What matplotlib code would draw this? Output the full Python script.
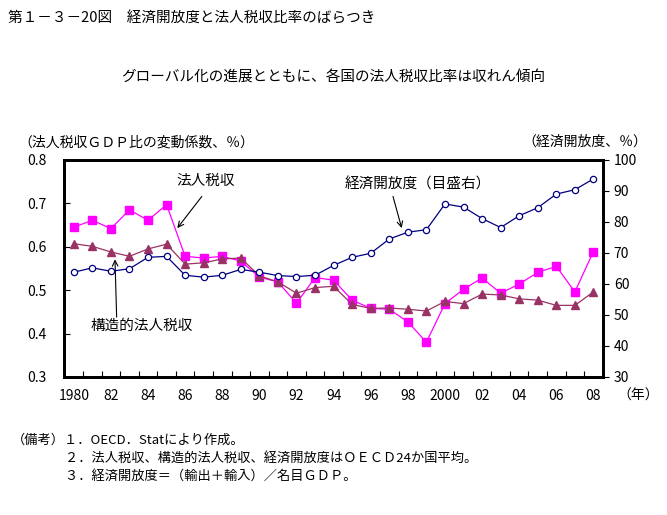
import numpy as np
import matplotlib
matplotlib.use('Agg')
import matplotlib.pyplot as plt

plt.rcParams['font.family'] = ['Noto Sans CJK JP', 'DejaVu Sans']

years = list(range(1980, 2009))
year_labels = ['1980', '82', '84', '86', '88', '90', '92', '94', '96', '98',
               '2000', '02', '04', '06', '08']

# 法人税収GDP比の変動係数
corp_tax = [0.645, 0.661, 0.642, 0.685, 0.661, 0.697, 0.578, 0.574, 0.578, 0.567,
            0.530, 0.519, 0.470, 0.529, 0.523, 0.477, 0.458, 0.456, 0.427, 0.380,
            0.469, 0.502, 0.528, 0.493, 0.514, 0.541, 0.555, 0.496, 0.589]
# 構造的法人税収
struct_tax = [0.607, 0.601, 0.588, 0.578, 0.595, 0.606, 0.560, 0.563, 0.572, 0.574,
              0.533, 0.519, 0.493, 0.506, 0.509, 0.467, 0.458, 0.459, 0.456, 0.452,
              0.474, 0.469, 0.491, 0.489, 0.480, 0.477, 0.465, 0.465, 0.496]
# 経済開放度 (%, 右目盛)
openness = [63.8, 65.2, 64.1, 64.9, 68.6, 68.9, 62.8, 62.2, 62.8, 64.7,
            63.8, 62.7, 62.4, 62.8, 66.0, 68.6, 69.9, 74.5, 76.7, 77.5,
            85.8, 84.8, 81.1, 78.2, 82.0, 84.6, 89.0, 90.4, 93.9]

fig = plt.figure(figsize=(6.67, 5.15), dpi=100)
ax = fig.add_axes([0.0967, 0.268, 0.8069, 0.4214])
ax2 = ax.twinx()

ax.plot(years, corp_tax, color='#FF00FF', lw=0.9, marker='s', ms=5.5,
        mfc='#FF00FF', mec='#FF00FF', zorder=3)
ax.plot(years, struct_tax, color='#993366', lw=0.9, marker='^', ms=6,
        mfc='#993366', mec='#993366', zorder=3)
ax2.plot(years, openness, color='#000080', lw=0.9, marker='o', ms=4.5,
         mfc='white', mec='#000080', mew=0.9, zorder=3)

ax.set_xlim(1979.5, 2008.5)
ax.set_ylim(0.3, 0.8)
ax2.set_ylim(30, 100)

ax.set_xticks(years[::2], year_labels)
ax.set_xticks(np.arange(1980.5, 2008, 1), minor=True)
ax.tick_params(axis='x', which='major', length=0, pad=9, labelsize=10)
ax.tick_params(axis='x', which='minor', direction='in', length=4, width=0.8)

yt = [0.3, 0.4, 0.5, 0.6, 0.7, 0.8]
ax.set_yticks(yt, [f'{v:.1f}' for v in yt])
ax.tick_params(axis='y', direction='in', length=4, width=0.8, pad=13, labelsize=10)
ax2.set_yticks(range(30, 101, 10))
ax2.tick_params(axis='y', direction='out', length=4, width=0.8, pad=4, labelsize=10)

for a in (ax, ax2):
    for s in a.spines.values():
        s.set_linewidth(2)

fig.text(0.012, 0.965, '第１－３－20図　経済開放度と法人税収比率のばらつき',
         fontsize=10.5, va='center')
fig.text(0.5, 0.85, 'グローバル化の進展とともに、各国の法人税収比率は収れん傾向',
         fontsize=10.5, ha='center', va='center')
fig.text(0.027, 0.724, '（法人税収ＧＤＰ比の変動係数、％）', fontsize=10, va='center')
fig.text(0.97, 0.724, '（経済開放度、％）', fontsize=10, ha='right', va='center')
fig.text(0.925, 0.232, '（年）', fontsize=10, va='center')

# labels with arrows
arrow = dict(arrowstyle='->', color='black', lw=0.8, shrinkA=0, shrinkB=0)
ax.text(1987.1, 0.753, '法人税収', fontsize=10.5, ha='center', va='center')
ax.annotate('', xy=(1985.58, 0.643), xytext=(1986.9, 0.716), arrowprops=arrow)
ax.text(1983.66, 0.417, '構造的法人税収', fontsize=10.5, ha='center', va='center')
ax.annotate('', xy=(1982.22, 0.571), xytext=(1982.31, 0.438), arrowprops=arrow)
ax.text(1998.55, 0.743, '経済開放度（目盛右）', fontsize=10.5, ha='center', va='center')
ax.annotate('', xy=(1997.67, 0.643), xytext=(1997.2, 0.716), arrowprops=arrow)

notes = ['（備考）１．OECD．Statにより作成。',
         '　　　　２．法人税収、構造的法人税収、経済開放度はＯＥＣＤ24か国平均。',
         '　　　　３．経済開放度＝（輸出＋輸入）／名目ＧＤＰ。']
for i, n in enumerate(notes):
    fig.text(0.018, 0.145 - i * 0.035, n, fontsize=9.5, va='center')

fig.savefig('out.png', dpi=100)
